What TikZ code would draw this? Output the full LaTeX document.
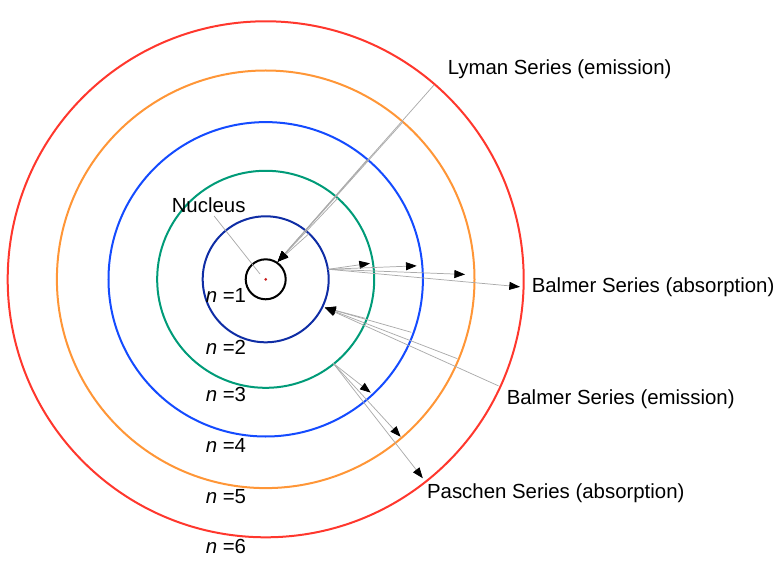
\documentclass[tikz,border=0pt]{standalone}
\usepackage{fontspec}
\setmainfont{Liberation Sans}
\usetikzlibrary{arrows.meta}
\definecolor{cred}{RGB}{255,55,45}
\definecolor{corange}{RGB}{255,150,55}
\definecolor{cblue}{RGB}{20,75,255}
\definecolor{cgreen}{RGB}{0,155,120}
\definecolor{cdark}{RGB}{15,45,165}
\definecolor{cline}{RGB}{170,170,170}
\definecolor{cdot}{RGB}{200,30,30}
\begin{document}
\begin{tikzpicture}[x=0.75pt,y=0.75pt,
  orbit/.style={circle,draw,line width=1.5pt,inner sep=0pt,outer sep=0pt},
  label/.style={anchor=base west,inner sep=0pt,font=\fontsize{15.3}{18}\selectfont},
  ray/.style={draw=cline,line width=0.55pt,-{Triangle[length=8pt,width=6pt,color=black]}},
  pointer/.style={draw=cline,line width=0.55pt}]
\useasboundingbox (-265.7,-287.7) rectangle (518.3,279.3);
% orbits
\node[orbit,draw=cred,minimum size=387pt] (n6) at (0,0) {};
\node[orbit,draw=corange,minimum size=313.2pt] (n5) at (0,0) {};
\node[orbit,draw=cblue,minimum size=235.8pt] (n4) at (0,0) {};
\node[orbit,draw=cgreen,minimum size=162.8pt] (n3) at (0,0) {};
\node[orbit,draw=cdark,minimum size=94.5pt] (n2) at (0,0) {};
\node[orbit,draw=black,minimum size=30pt] (n1) at (0,0) {};
\fill[cdot] (0,0) circle (1.5);
% labels
\node[label] (nucl) at (-94.2,66.3) {Nucleus};
\node[label] (l1) at (-60.2,-23) {\textit{n} =1};
\node[label] (l2) at (-60.2,-74.7) {\textit{n} =2};
\node[label] (l3) at (-60.2,-122.4) {\textit{n} =3};
\node[label] (l4) at (-60.2,-173) {\textit{n} =4};
\node[label] (l5) at (-60.2,-224) {\textit{n} =5};
\node[label] (l6) at (-60.2,-274) {\textit{n} =6};
\node[label] (lyman) at (181.8,204.3) {Lyman Series (emission)};
\node[label] (babs) at (265.8,-13) {Balmer Series (absorption)};
\node[label] (bemi) at (240.8,-125) {Balmer Series (emission)};
\node[label] (pabs) at (161.1,-219.2) {Paschen Series (absorption)};
% nucleus pointer
\coordinate (nucpt) at (-5.7,5.3);
\draw[pointer] ([shift={(5.5,-3)}]nucl.base) -- (nucpt);
% Lyman series
\coordinate (ly) at (55.7:21.3);
\coordinate (ly2) at (46.5:63);
\coordinate (ly3) at (48.4:108.5);
\coordinate (ly4) at (49.7:157);
\coordinate (ly5) at (48.9:209);
\coordinate (ly6) at (49.1:257);
\foreach \s in {ly2,ly3,ly4,ly5,ly6} \draw[ray] (\s) -- (ly);
% Balmer absorption
\coordinate (ba) at (9.1:63.4);
\coordinate (ba3) at (8.7:105.5);
\coordinate (ba4) at (5.1:151.6);
\coordinate (ba5) at (1.4:199.4);
\coordinate (ba6) at (-1.7:254.4);
\foreach \t in {ba3,ba4,ba5,ba6} \draw[ray] (ba) -- (\t);
% Balmer emission
\coordinate (be) at (-25.6:65.7);
\coordinate (be3) at (-21.4:106.7);
\coordinate (be4) at (-20:155);
\coordinate (be5) at (-22.5:207.5);
\coordinate (be6) at (-24.6:256);
\foreach \s in {be3,be4,be5,be6} \draw[ray] (\s) -- (be);
% Paschen absorption
\coordinate (pa) at (-51.2:107.8);
\coordinate (pa4) at (-47.2:154.5);
\coordinate (pa5) at (-49.4:207.4);
\coordinate (pa6) at (-51.7:253.5);
\foreach \t in {pa4,pa5,pa6} \draw[ray] (pa) -- (\t);
\end{tikzpicture}
\end{document}
